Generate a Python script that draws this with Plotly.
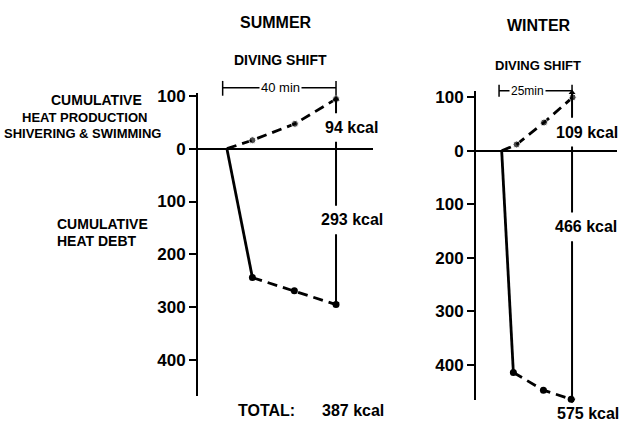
import plotly.graph_objects as go

# ---------------- data ----------------
summer_prod_t = [1.5, 10.5, 25.5, 40]
summer_prod = [0, 16, 47, 94]
summer_debt_t = [1.5, 10.5, 25.3, 40]
summer_debt = [0, 244, 269, 295]

winter_prod_t = [0.9, 6.0, 15.4, 25.2]
winter_prod = [0, 12, 53, 100]
winter_debt_t = [0.9, 4.9, 15.2, 24.7]
winter_debt = [0, 414, 447, 464]

summer_shift_min = 40
winter_shift_min = 25
summer_prod_kcal, summer_debt_kcal, summer_total_kcal = 94, 293, 387
winter_prod_kcal, winter_debt_kcal, winter_total_kcal = 109, 466, 575

tick_vals = [100, 0, -100, -200, -300, -400]
tick_text = ["100", "0", "100", "200", "300", "400"]

# ---------------- layout helpers ----------------
W, H = 622, 424
FONT = "Liberation Sans"


def pxx(x):
    return x / W


def pyy(y):
    return 1 - y / H


fig = go.Figure()


def add_panel(xa, ya, prod_t, prod, debt_t, debt, shift, prod_kcal, debt_kcal,
              lab_prod_val, lab_debt_val, gap):
    xref = "x" if xa == "xaxis" else "x2"
    yref = "y" if ya == "yaxis" else "y2"
    dneg = [-v for v in debt]
    dash = "10px,6px"
    # heat production (dash-dot with dots)
    fig.add_trace(go.Scatter(
        x=prod_t, y=prod, xaxis=xref, yaxis=yref, mode="lines+markers",
        line=dict(color="black", width=2.8, dash=dash),
        marker=dict(color="black", size=[0, 7, 7, 7]),
        cliponaxis=False, showlegend=False, hoverinfo="skip"))
    # heat debt: solid first segment
    fig.add_trace(go.Scatter(
        x=debt_t[:2], y=dneg[:2], xaxis=xref, yaxis=yref, mode="lines",
        line=dict(color="black", width=2.8),
        cliponaxis=False, showlegend=False, hoverinfo="skip"))
    # heat debt: dashed remainder
    fig.add_trace(go.Scatter(
        x=debt_t[1:], y=dneg[1:], xaxis=xref, yaxis=yref, mode="lines+markers",
        line=dict(color="black", width=2.8, dash=dash),
        marker=dict(color="black", size=7),
        cliponaxis=False, showlegend=False, hoverinfo="skip"))
    # vertical double arrows at end of shift
    ys = [prod_kcal, lab_prod_val + gap, None,
          lab_prod_val - gap, lab_debt_val + gap, None,
          lab_debt_val - gap, -debt_kcal]
    xs = [shift if v is not None else None for v in ys]
    fig.add_trace(go.Scatter(
        x=xs, y=ys, xaxis=xref, yaxis=yref, mode="lines",
        line=dict(color="black", width=2),
        cliponaxis=False, showlegend=False, hoverinfo="skip"))
    fig.add_trace(go.Scatter(
        x=[shift, shift], y=[prod_kcal, -debt_kcal], xaxis=xref, yaxis=yref,
        mode="markers",
        marker=dict(color="black", size=6, symbol=["triangle-up", "triangle-down"]),
        cliponaxis=False, showlegend=False, hoverinfo="skip"))


# summer: zero at y=144.7px, 53.6 px per 100
add_panel("xaxis", "yaxis", summer_prod_t, summer_prod, summer_debt_t, summer_debt,
          summer_shift_min, summer_prod_kcal, summer_debt_kcal, 40, -135, 27)
# winter: zero at y=147px, 54.3 px per 100
add_panel("xaxis2", "yaxis2", winter_prod_t, winter_prod, winter_debt_t, winter_debt,
          winter_shift_min, winter_prod_kcal, winter_debt_kcal, 35, -142, 27)

yax_common = dict(
    showline=True, linewidth=2, linecolor="black",
    ticks="outside", ticklen=7, tickwidth=2, tickcolor="black",
    tickvals=tick_vals, ticktext=tick_text,
    tickfont=dict(family=FONT, size=17, color="black", weight="bold"),
    showgrid=False, zeroline=True, zerolinecolor="black", zerolinewidth=1.8,
    fixedrange=True,
)

fig.update_layout(
    width=W, height=H,
    margin=dict(l=0, r=0, t=0, b=0),
    paper_bgcolor="white", plot_bgcolor="white",
    xaxis=dict(domain=[pxx(198), pxx(373)], range=[-8.7, 53.05], visible=False),
    yaxis=dict(domain=[pyy(396), pyy(88)], range=[-468.8, 105.8], anchor="x",
               **yax_common),
    xaxis2=dict(domain=[pxx(476), pxx(617)], range=[-7.9, 40.4], visible=False,
                anchor="y2"),
    yaxis2=dict(domain=[pyy(400), pyy(86)], range=[-466, 112.3], anchor="x2",
                **yax_common),
)

# brackets for diving shift
shapes = []
for xref, y, c0, c1, shift in [("x", 83, 76, 91, summer_shift_min),
                                ("x2", 86, 80, 92, winter_shift_min)]:
    shapes.append(dict(type="line", xref=xref, yref="paper", x0=0, x1=shift,
                       y0=pyy(y), y1=pyy(y), line=dict(color="black", width=1.5)))
    for xv in (0, shift):
        shapes.append(dict(type="line", xref=xref, yref="paper", x0=xv, x1=xv,
                           y0=pyy(c0), y1=pyy(c1), line=dict(color="black", width=1.5)))
fig.update_layout(shapes=shapes)

anns = []


def txt(text, x, y, size, anchor="center", bold=True, bg=None):
    d = dict(text=text, x=pxx(x), y=pyy(y), xref="paper", yref="paper",
             xanchor=anchor, yanchor="middle", showarrow=False,
             font=dict(family=FONT, size=size, color="black",
                       weight="bold" if bold else "normal"))
    if bg:
        d["bgcolor"] = bg
        d["borderpad"] = 1
    anns.append(d)


txt("SUMMER", 276, 17, 16)
txt("WINTER", 539, 20, 16)
txt("DIVING SHIFT", 280, 55, 14)
txt("DIVING SHIFT", 538, 60, 13)
txt(f"{summer_shift_min} min", 280, 83, 13, bold=False, bg="white")
txt(f"{winter_shift_min}min", 527, 86, 12, bold=False, bg="white")
txt("CUMULATIVE", 96.5, 95, 14)
txt("HEAT PRODUCTION", 84, 113, 13)
txt("SHIVERING &amp; SWIMMING", 82.5, 129, 13)
txt("CUMULATIVE", 55, 221, 14, anchor="left")
txt("HEAT DEBT", 55, 238, 14, anchor="left")
txt(f"{summer_prod_kcal} kcal", 351, 123, 16)
txt(f"{summer_debt_kcal} kcal", 352, 217, 16)
txt("TOTAL:", 266, 410, 16)
txt(f"{summer_total_kcal} kcal", 320, 410, 16, anchor="left")
txt(f"{winter_prod_kcal} kcal", 587, 128, 16)
txt(f"{winter_debt_kcal} kcal", 586, 224, 16)
txt(f"{winter_total_kcal} kcal", 588, 413, 16)
fig.update_layout(annotations=anns)

fig.write_html(
    "out.html",
    config={"displayModeBar": False},
    post_script="document.body.style.margin='0';document.body.style.overflow='hidden';",
)
